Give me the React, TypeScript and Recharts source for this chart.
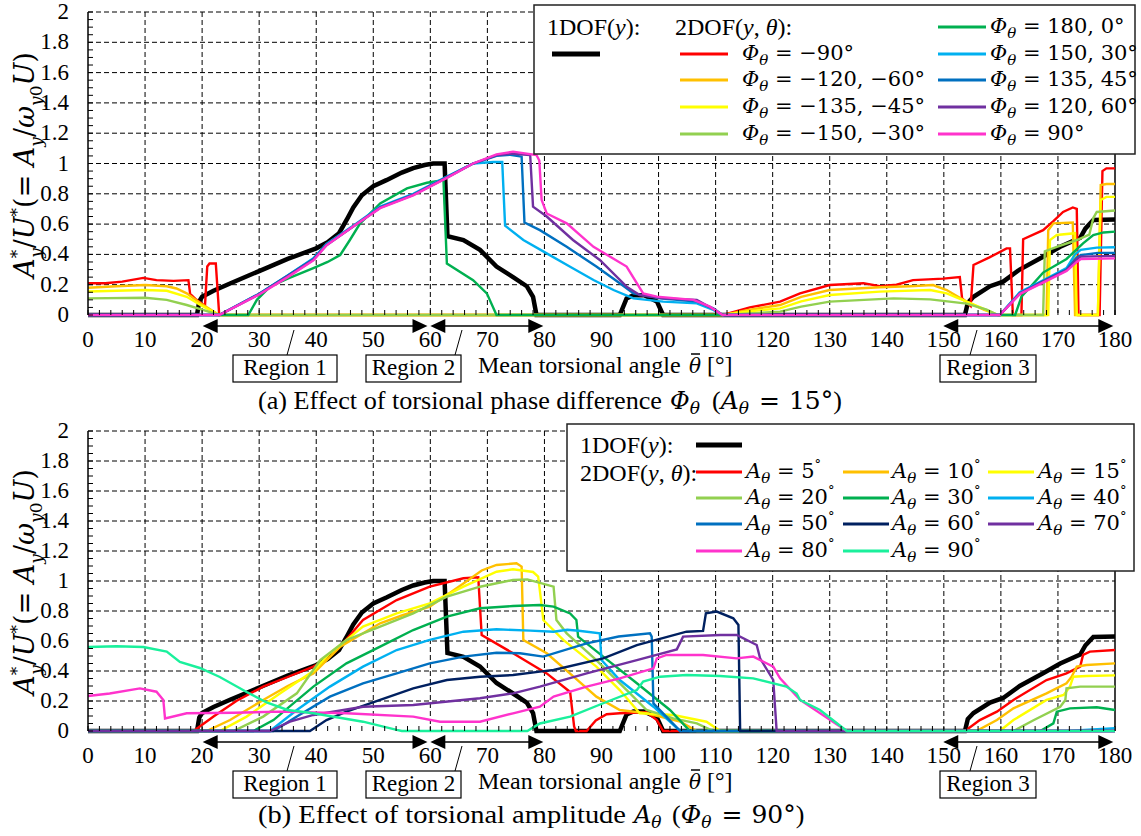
import React from "react";
import { LineChart, Line, XAxis, YAxis, CartesianGrid, ReferenceLine } from "recharts";

type Pt = [number, number];

// 1DOF(y) response, identical in both panels
const ONE_DOF: Pt[] = [
  [0, 0], [19.1, 0], [19.5, 0.09], [20, 0.12], [22, 0.16], [25, 0.21], [30, 0.29], [35, 0.37], [40, 0.44],
  [42, 0.48], [44, 0.54], [45.5, 0.64], [46.5, 0.71], [48, 0.79], [50, 0.85], [52.3, 0.89], [55, 0.94],
  [57, 0.97], [59, 0.99], [60.5, 1.0], [62.5, 1.0], [63.0, 0.52], [65.8, 0.495], [68.7, 0.43], [71.6, 0.32],
  [74.5, 0.25], [76.9, 0.19], [78, 0.12], [78.6, 0], [93.2, 0], [94.4, 0.11], [95.6, 0.13], [97.5, 0.13],
  [99.7, 0.09], [100.8, 0], [153.7, 0], [154.2, 0.08], [155.2, 0.12], [158.1, 0.19], [160.4, 0.22],
  [163.3, 0.3], [167.4, 0.385], [170.4, 0.45], [173.9, 0.51], [174.8, 0.57], [176.2, 0.627], [180, 0.63],
];

// (a) torsional phase difference, A_theta = 15 deg
const PH_M90: Pt[] = [
  [0, 0.21], [3, 0.21], [6, 0.22], [9.7, 0.245], [12, 0.23], [15, 0.225], [17.6, 0.23], [17.9, 0.14],
  [19, 0.1], [20.5, 0.06], [20.9, 0.32], [21.3, 0.34], [22.4, 0.34], [23, 0], [111.3, 0], [116, 0.05],
  [121.3, 0.088], [124.8, 0.143], [130, 0.198], [135.9, 0.21], [138.8, 0.19], [141.7, 0.2], [144.6, 0.23],
  [149.9, 0.24], [152.8, 0.25], [153.2, 0.11], [154.7, 0.06], [155.2, 0.33], [158, 0.38], [161, 0.44],
  [161.6, 0.44], [162.1, 0], [163.6, 0], [163.9, 0.5], [167.4, 0.56], [169.2, 0.62], [170.9, 0.68],
  [172.6, 0.71], [173.3, 0.7], [173.6, 0], [177.3, 0], [177.8, 0.95], [178.5, 0.968], [180, 0.968],
];
const PH_M120: Pt[] = [
  [0, 0.18], [5, 0.19], [10, 0.198], [13.8, 0.19], [15.5, 0.175], [17.3, 0.143], [20, 0.07], [23, 0],
  [111.3, 0], [116, 0.035], [121.3, 0.066], [125, 0.12], [130, 0.165], [138.8, 0.183], [144, 0.19],
  [148.1, 0.198], [150.5, 0.165], [154, 0.088], [157, 0.035], [159.5, 0], [168, 0], [168.3, 0.56],
  [169.2, 0.605], [172.6, 0.61], [173, 0], [177, 0], [177.5, 0.858], [178.5, 0.865], [180, 0.865],
];
const PH_M135: Pt[] = [
  [0, 0.155], [10, 0.165], [13.8, 0.16], [17.3, 0.12], [20, 0.06], [23, 0], [111.3, 0], [116, 0.025],
  [121.3, 0.044], [125, 0.09], [130, 0.132], [138.8, 0.154], [147.6, 0.165], [150.5, 0.143], [154, 0.088],
  [157, 0.04], [159.5, 0], [168.3, 0], [168.6, 0.495], [169.8, 0.528], [173, 0.54], [173.3, 0], [177, 0],
  [177.5, 0.76], [178.5, 0.78], [180, 0.78],
];
const PH_M150: Pt[] = [
  [0, 0.11], [10, 0.114], [13.8, 0.1], [17.3, 0.066], [20, 0.035], [23, 0], [111.3, 0], [116, 0.01],
  [121.3, 0.022], [125, 0.055], [130, 0.088], [141.2, 0.11], [147.6, 0.103], [154, 0.075], [157.5, 0.035],
  [159.5, 0], [167.4, 0], [167.7, 0.42], [169.8, 0.45], [173.3, 0.495], [175.5, 0.53], [176.2, 0.64],
  [176.8, 0.68], [180, 0.69],
];
const PH_180: Pt[] = [
  [0, 0], [28.1, 0], [29.6, 0.1], [31.9, 0.187], [35, 0.24], [39.5, 0.31], [42, 0.35], [44.2, 0.396],
  [45.9, 0.495], [47.7, 0.605], [51.2, 0.737], [55.9, 0.836], [59.4, 0.873], [62.3, 0.89], [62.9, 0.34],
  [67.5, 0.23], [69.9, 0.143], [71.6, 0], [162.5, 0], [163.6, 0.12], [167.4, 0.28], [171.5, 0.37],
  [174.4, 0.473], [176.2, 0.528], [178, 0.545], [180, 0.55],
];
const PH_150: Pt[] = [
  [0, 0], [23, 0], [30, 0.14], [35, 0.26], [39.5, 0.374], [41.8, 0.47], [47.1, 0.605], [51.2, 0.715],
  [57, 0.8], [62.9, 0.913], [67.5, 1.0], [71, 1.01], [72.6, 1.01], [73.1, 0.59], [76.3, 0.495], [80.4, 0.407],
  [84.5, 0.319], [88.6, 0.231], [92.1, 0.165], [95.6, 0.11], [100.8, 0.088], [106.7, 0.077], [109.6, 0.033],
  [111.2, 0], [159.8, 0], [163.3, 0.15], [168, 0.24], [171.5, 0.31], [173, 0.4], [174, 0.43], [176.8, 0.445],
  [180, 0.447],
];
const PH_135: Pt[] = [
  [0, 0], [23, 0], [30, 0.14], [35, 0.26], [39.5, 0.37], [41.8, 0.465], [47.1, 0.6], [51.2, 0.71],
  [57, 0.795], [62.9, 0.91], [67.5, 1.0], [71.6, 1.05], [74, 1.058], [76, 1.045], [76.5, 0.61], [79.2, 0.56],
  [83.9, 0.45], [89.1, 0.32], [93.2, 0.21], [95.6, 0.143], [100.3, 0.11], [106.7, 0.088], [109.6, 0.044],
  [111.2, 0], [159.8, 0], [163.3, 0.143], [168, 0.235], [171.5, 0.3], [173.3, 0.38], [174, 0.395],
  [177, 0.41], [180, 0.41],
];
const PH_120: Pt[] = [
  [0, 0], [23, 0], [30, 0.137], [35, 0.255], [39.5, 0.365], [41.8, 0.46], [47.1, 0.6], [51.2, 0.708],
  [57, 0.792], [62.9, 0.907], [67.5, 1.0], [71.6, 1.055], [74, 1.065], [77.5, 1.056], [78, 0.715],
  [80.4, 0.65], [85, 0.495], [89.7, 0.363], [94.4, 0.187], [96.7, 0.132], [100.8, 0.11], [106.7, 0.1],
  [109.6, 0.04], [111.2, 0], [159.8, 0], [163.3, 0.14], [168, 0.23], [171.5, 0.295], [173.3, 0.37],
  [174, 0.385], [180, 0.39],
];
const PH_90: Pt[] = [
  [0, 0], [23, 0], [30, 0.135], [35, 0.25], [39.5, 0.36], [41.8, 0.46], [47.1, 0.6], [51.2, 0.705],
  [57, 0.79], [62.9, 0.905], [67.5, 1.0], [71.6, 1.06], [74.5, 1.078], [78.6, 1.056], [79.1, 1.02],
  [79.5, 0.76], [80.4, 0.67], [83.9, 0.605], [88.6, 0.45], [94.4, 0.32], [97.3, 0.143], [99.7, 0.121],
  [106.1, 0.1], [109, 0.055], [111.2, 0], [159.8, 0], [163.3, 0.138], [168, 0.225], [171.5, 0.29],
  [173.3, 0.35], [174, 0.37], [180, 0.374],
];

// (b) torsional amplitude, Phi_theta = 90 deg
const AM_5: Pt[] = [
  [0, 0], [18.5, 0], [22, 0.096], [26, 0.2], [30.7, 0.296], [35, 0.36], [39.5, 0.429], [42, 0.48],
  [44.2, 0.562], [48.2, 0.74], [54.1, 0.873], [59.9, 0.962], [65.8, 1.018], [68.4, 1.025], [69, 0.64],
  [74.5, 0.518], [80.4, 0.384], [84.5, 0.26], [85.2, 0.03], [85.5, 0], [87.4, 0], [89, 0.07], [90.9, 0.112],
  [93.2, 0.118], [97.9, 0.125], [99.7, 0.073], [100.8, 0], [153.7, 0], [156.3, 0.073], [159.3, 0.129],
  [162.2, 0.207], [168, 0.34], [171.5, 0.384], [173.9, 0.429], [174.4, 0.507], [175.6, 0.529], [180, 0.54],
];
const AM_10: Pt[] = [
  [0, 0], [20.8, 0], [24.9, 0.073], [30.7, 0.207], [35, 0.3], [39.5, 0.384], [44.2, 0.562], [51.2, 0.718],
  [55, 0.77], [59.9, 0.829], [65.8, 0.984], [69, 1.07], [71.6, 1.107], [75.1, 1.118], [76, 1.096],
  [76.3, 0.607], [80.4, 0.518], [85.1, 0.362], [89.1, 0.229], [93.2, 0.14], [97.9, 0.118], [103.8, 0.062],
  [106.7, 0], [155.7, 0], [159.3, 0.073], [162.2, 0.151], [168, 0.251], [171.5, 0.318], [172.4, 0.362],
  [173.3, 0.429], [175, 0.44], [180, 0.451],
];
const AM_15: Pt[] = [
  [0, 0], [23.1, 0], [27.8, 0.096], [33.7, 0.251], [39.5, 0.4], [42.4, 0.518], [48.2, 0.696], [54.1, 0.784],
  [59.9, 0.851], [65.8, 0.962], [71.6, 1.062], [74.5, 1.078], [78, 1.06], [78.9, 1.029], [79.5, 0.84],
  [79.8, 0.74], [83.3, 0.607], [89.1, 0.429], [93.2, 0.273], [96.7, 0.118], [102.6, 0.107], [108.4, 0.062],
  [110.8, 0], [159.8, 0], [162.2, 0.073], [168, 0.207], [171, 0.24], [172.1, 0.296], [172.7, 0.362],
  [175, 0.367], [180, 0.371],
];
const AM_20: Pt[] = [
  [0, 0], [25.5, 0], [30.7, 0.096], [36.6, 0.251], [40.7, 0.473], [45.3, 0.607], [51.2, 0.696], [57, 0.784],
  [62.9, 0.896], [68.7, 0.962], [74.5, 1.007], [77, 1.011], [81.6, 0.962], [82.1, 0.74], [83.9, 0.651],
  [89.1, 0.473], [95, 0.251], [97.9, 0.14], [102.6, 0.084], [106.7, 0.051], [109.6, 0], [162.2, 0],
  [165.8, 0.073], [170.4, 0.162], [171.3, 0.207], [171.5, 0.284], [173.9, 0.296], [180, 0.296],
];
const AM_30: Pt[] = [
  [0, 0], [29, 0], [32.5, 0.073], [39.5, 0.296], [45.3, 0.451], [51.2, 0.562], [57, 0.673], [62.9, 0.762],
  [68.7, 0.818], [74.5, 0.833], [79.2, 0.84], [81.6, 0.829], [84.5, 0.784], [85.6, 0.74], [85.9, 0.629],
  [90.3, 0.496], [96.2, 0.318], [102, 0.14], [105.5, 0], [166.9, 0], [169.2, 0.051], [169.8, 0.129],
  [172.1, 0.151], [176.8, 0.158], [180, 0.14],
];
const AM_40: Pt[] = [
  [0, 0], [31.9, 0], [36.6, 0.14], [42.4, 0.296], [48.2, 0.429], [54.1, 0.54], [59.9, 0.607], [65.8, 0.662],
  [71.6, 0.678], [77.5, 0.669], [81.6, 0.662], [84, 0.675], [86, 0.668], [89.7, 0.651], [90, 0.473],
  [93.2, 0.34], [99.1, 0.162], [103.8, 0], [171.5, 0], [180, 0.018],
];
const AM_50: Pt[] = [
  [0, 0], [32.5, 0], [36.6, 0.096], [42.4, 0.229], [48.2, 0.318], [54.1, 0.384], [59.9, 0.451],
  [65.8, 0.496], [71.6, 0.522], [75.7, 0.518], [79.8, 0.496], [87.4, 0.584], [93, 0.63], [98.5, 0.651],
  [98.8, 0.629], [99.1, 0.184], [103.8, 0], [180, 0],
];
const AM_60: Pt[] = [
  [0, 0], [38.9, 0], [41.8, 0.073], [45.3, 0.129], [51.2, 0.207], [57, 0.284], [62.9, 0.34], [68.7, 0.362],
  [74.5, 0.373], [79.2, 0.396], [81.6, 0.407], [90.3, 0.484], [96.2, 0.573], [104.9, 0.662], [107.8, 0.667],
  [108.3, 0.784], [110.2, 0.796], [113.1, 0.751], [114, 0.707], [114.3, 0], [180, 0],
];
const AM_70: Pt[] = [
  [0, 0], [31.9, 0], [35.4, 0.062], [39.5, 0.107], [48.2, 0.162], [57, 0.173], [68.7, 0.218], [74.5, 0.251],
  [79.2, 0.296], [87.4, 0.384], [96.2, 0.473], [103.2, 0.544], [104.3, 0.629], [110.8, 0.64], [113.7, 0.64],
  [117.2, 0.573], [117.8, 0.484], [120.1, 0.34], [120.7, 0], [180, 0],
];
const AM_80: Pt[] = [
  [0, 0.233], [3.8, 0.25], [9.1, 0.284], [12, 0.262], [13.2, 0.207], [13.5, 0.084], [17.3, 0.118],
  [25.5, 0.122], [33.7, 0.129], [45.3, 0.118], [57, 0.096], [61.7, 0.062], [68.7, 0.062], [74.5, 0.118],
  [79.2, 0.162], [81.6, 0.229], [87.4, 0.296], [93.2, 0.351], [99.1, 0.418], [99.7, 0.484], [101.4, 0.507],
  [107.8, 0.507], [113.7, 0.484], [116.6, 0.496], [120.1, 0.429], [121.3, 0.351], [124.8, 0.207], [133, 0],
  [180, 0],
];
const AM_90: Pt[] = [
  [0, 0.56], [5, 0.565], [9.7, 0.56], [13.8, 0.53], [16.1, 0.46], [19.6, 0.42], [23.1, 0.36], [27.8, 0.26],
  [31.3, 0.19], [35, 0.14], [39.5, 0.118], [48.2, 0.062], [54.1, 0.007], [55, 0], [77, 0], [79.2, 0.05],
  [84.5, 0.096], [90.3, 0.185], [96.2, 0.273], [97.3, 0.33], [100.3, 0.362], [104.9, 0.373], [110.8, 0.367],
  [116.6, 0.351], [122.4, 0.296], [124.2, 0.25], [124.8, 0.207], [128.3, 0.14], [133, 0], [180, 0],
];

const PHASE_LABELS = ["\u221290", "\u2212120, \u221260", "\u2212135, \u221245", "\u2212150, \u221230", "180, 0", "150, 30", "135, 45", "120, 60", "90"];
const PHASE_COLORS = ["#ff0000", "#ffc000", "#ffff00", "#92d050", "#00b050", "#00b0f0", "#0070c0", "#7030a0", "#ff33cc"];
const PHASE_DATA = [PH_M90, PH_M120, PH_M135, PH_M150, PH_180, PH_150, PH_135, PH_120, PH_90];

const AMP_LABELS = ["5", "10", "15", "20", "30", "40", "50", "60", "70", "80", "90"];
const AMP_COLORS = ["#ff0000", "#ffc000", "#ffff00", "#92d050", "#00b050", "#00b0f0", "#0070c0", "#002060", "#7030a0", "#ff33cc", "#1af09c"];
const AMP_DATA = [AM_5, AM_10, AM_15, AM_20, AM_30, AM_40, AM_50, AM_60, AM_70, AM_80, AM_90];

const X_TICKS = Array.from({ length: 91 }, (_, i) => i * 2);
const Y_TICKS = Array.from({ length: 41 }, (_, i) => Math.round(i * 5) / 100);
const GRID_X = [10, 20, 30, 40, 50, 60, 70, 80, 90, 100, 110, 120, 130, 140, 150, 160, 170];
const GRID_Y = [0.2, 0.4, 0.6, 0.8, 1, 1.2, 1.4, 1.6, 1.8, 2];

const SERIF = "'Liberation Serif', 'Times New Roman', serif";
const MATH = "'DejaVu Serif', serif";
const serif = (size: number) => ({ fontFamily: SERIF, fontSize: size });
const math = (size: number, italic = false) => ({ fontFamily: MATH, fontSize: size, fontStyle: italic ? "italic" : "normal" });

const PL = 88;
const PR = 1115;
const AXIS_Y = 315; // plot bottom inside each chart
const px = (d: number) => PL + (d / 180) * (PR - PL);

const toXY = (a: Pt[]) => a.map(([x, y]) => ({ x, y }));

function XTick(props: any) {
  const { x, payload } = props;
  const v = payload.value as number;
  const major = v % 10 === 0;
  return (
    <g>
      <line x1={x} x2={x} y1={AXIS_Y} y2={AXIS_Y - 5} stroke="#000" strokeWidth={1} />
      {major && (
        <text x={x} y={AXIS_Y + 32} textAnchor="middle" style={serif(23)} fill="#000">
          {v}
        </text>
      )}
    </g>
  );
}

function YTick(props: any) {
  const { y, payload } = props;
  const v = payload.value as number;
  const major = Math.abs(v * 5 - Math.round(v * 5)) < 1e-6;
  const label = Math.abs(v - Math.round(v)) < 1e-6 ? String(Math.round(v)) : v.toFixed(1);
  return (
    <g>
      <line x1={PL} x2={PL + 5} y1={y} y2={y} stroke="#000" strokeWidth={1} />
      {major && (
        <text x={69} y={y + 7} textAnchor="end" style={serif(23)} fill="#000">
          {label}
        </text>
      )}
    </g>
  );
}

function Panel({ top, marginTop, data, colors }: { top: number; marginTop: number; data: Pt[][]; colors: string[] }) {
  return (
    <div style={{ position: "absolute", left: 0, top }}>
      <LineChart width={1141} height={420} margin={{ top: marginTop, right: 1141 - PR, bottom: 0, left: 0 }}>
        <CartesianGrid stroke="#000" strokeWidth={1} strokeDasharray="5 3" horizontalValues={GRID_Y} verticalValues={GRID_X} />
        <XAxis
          type="number"
          dataKey="x"
          domain={[0, 180]}
          ticks={X_TICKS}
          interval={0}
          tickLine={false}
          axisLine={false}
          tick={XTick}
          height={105}
        />
        <YAxis
          type="number"
          domain={[0, 2]}
          ticks={Y_TICKS}
          interval={0}
          tickLine={false}
          axisLine={{ stroke: "#000", strokeWidth: 1.5 }}
          tick={YTick}
          width={PL}
        />
        <ReferenceLine x={180} stroke="#000" strokeWidth={1.5} />
        <Line data={toXY(ONE_DOF)} dataKey="y" type="linear" stroke="#000" strokeWidth={4.5} dot={false} activeDot={false} isAnimationActive={false} />
        {data.map((d, i) => (
          <Line
            key={i}
            data={toXY(d)}
            dataKey="y"
            type="linear"
            stroke={colors[i]}
            strokeWidth={2.4}
            dot={false}
            activeDot={false}
            isAnimationActive={false}
          />
        ))}
      </LineChart>
    </div>
  );
}

function Arrow({ d1, d2, y }: { d1: number; d2: number; y: number }) {
  const x1 = px(d1);
  const x2 = px(d2);
  return (
    <g>
      <line x1={x1 + 10} x2={x2 - 10} y1={y} y2={y} stroke="#000" strokeWidth={1.6} />
      <polygon points={`${x1},${y} ${x1 + 15},${y - 7} ${x1 + 15},${y + 7}`} fill="#000" />
      <polygon points={`${x2},${y} ${x2 - 15},${y - 7} ${x2 - 15},${y + 7}`} fill="#000" />
    </g>
  );
}

function RegionBox({ x, y, w, label }: { x: number; y: number; w: number; label: string }) {
  return (
    <g>
      <rect x={x} y={y} width={w} height={27} fill="#fff" stroke="#000" strokeWidth={1.2} />
      <text x={x + w / 2} y={y + 20} textAnchor="middle" style={serif(23)} fill="#000">
        {label}
      </text>
    </g>
  );
}

function Annotations({ dy }: { dy: number }) {
  const ay = 326 + dy;
  const by = 355 + dy;
  return (
    <g>
      <Arrow d1={20.1} d2={59.5} y={ay} />
      <Arrow d1={60} d2={79.8} y={ay} />
      <Arrow d1={149.9} d2={179.7} y={ay} />
      <line x1={294} y1={ay + 4} x2={287} y2={by} stroke="#000" strokeWidth={1} />
      <line x1={462} y1={ay + 4} x2={455} y2={by} stroke="#000" strokeWidth={1} />
      <line x1={977} y1={ay + 4} x2={970} y2={by} stroke="#000" strokeWidth={1} />
      <RegionBox x={233} y={by} w={104} label="Region 1" />
      <RegionBox x={366} y={by} w={95} label="Region 2" />
      <RegionBox x={940} y={by} w={96} label="Region 3" />
      <text x={478} y={by + 18} style={serif(24)} fill="#000">
        Mean torsional angle
      </text>
      <text x={689} y={by + 18} style={math(20, true)} fill="#000">
        θ
      </text>
      <line x1={691} x2={700} y1={by - 1} y2={by - 1} stroke="#000" strokeWidth={1.5} />
      <text x={707} y={by + 18} style={serif(24)} fill="#000">
        [°]
      </text>
    </g>
  );
}

function YTitle({ cx, cy }: { cx: number; cy: number }) {
  return (
    <text transform={`translate(${cx},${cy}) rotate(-90)`} textAnchor="middle" style={math(27)} fill="#000">
      <tspan fontStyle="italic">A</tspan>
      <tspan fontSize={17} dy={-11}>*</tspan>
      <tspan fontSize={17} fontStyle="italic" dy={19} dx={-8}>y</tspan>
      <tspan dy={-8}>/</tspan>
      <tspan fontStyle="italic">U</tspan>
      <tspan fontSize={17} dy={-11}>*</tspan>
      <tspan dy={11}>(= </tspan>
      <tspan fontStyle="italic">A</tspan>
      <tspan fontSize={17} fontStyle="italic" dy={8}>y</tspan>
      <tspan dy={-8}>/</tspan>
      <tspan fontStyle="italic">ω</tspan>
      <tspan fontSize={17} fontStyle="italic" dy={8}>y</tspan>
      <tspan fontSize={17}>0</tspan>
      <tspan fontStyle="italic" dy={-8}>U</tspan>
      <tspan>)</tspan>
    </text>
  );
}

function PhiLabel({ x, y, val }: { x: number; y: number; val: string }) {
  return (
    <text x={x} y={y} style={math(21)} fill="#000">
      <tspan fontStyle="italic">Φ</tspan>
      <tspan fontStyle="italic" fontSize={15} dy={5}>θ</tspan>
      <tspan dy={-5}>{` = ${val}°`}</tspan>
    </text>
  );
}

function AmpLabel({ x, y, val }: { x: number; y: number; val: string }) {
  return (
    <text x={x} y={y} style={math(21)} fill="#000">
      <tspan fontStyle="italic">A</tspan>
      <tspan fontStyle="italic" fontSize={15} dy={5}>θ</tspan>
      <tspan dy={-5}>{` = ${val}`}</tspan>
      <tspan fontSize={13} dy={-9}>°</tspan>
    </text>
  );
}

function DofText({ x, y, two }: { x: number; y: number; two?: boolean }) {
  return (
    <text x={x} y={y} style={serif(24)} fill="#000">
      {two ? "2DOF(" : "1DOF("}
      <tspan fontStyle="italic">y</tspan>
      {two && <tspan>, </tspan>}
      {two && <tspan fontStyle="italic">θ</tspan>}
      <tspan>):</tspan>
    </text>
  );
}

function LegendA() {
  const rows1 = [54, 80, 107, 134];
  const rows2 = [27, 54, 80, 107, 134];
  return (
    <g>
      <rect x={534} y={5} width={601} height={149} fill="#fff" stroke="#222" strokeWidth={1.5} />
      <DofText x={547} y={35} />
      <DofText x={675} y={35} two />
      <line x1={552} x2={600} y1={54} y2={54} stroke="#000" strokeWidth={5} />
      {PHASE_LABELS.map((lab, i) => {
        const col = i < 4 ? 0 : 1;
        const ry = col === 0 ? rows1[i] : rows2[i - 4];
        const lx = col === 0 ? 680 : 938;
        const tx = col === 0 ? 742 : 990;
        return (
          <g key={i}>
            <line x1={lx} x2={lx + 48} y1={ry} y2={ry} stroke={PHASE_COLORS[i]} strokeWidth={2.8} />
            <PhiLabel x={tx} y={ry + 6} val={lab} />
          </g>
        );
      })}
    </g>
  );
}

function LegendB() {
  const rows = [472, 498, 524, 551];
  const lineX = [696, 843, 988];
  const textX = [746, 892, 1038];
  return (
    <g>
      <rect x={567} y={424} width={567} height={147} fill="#fff" stroke="#222" strokeWidth={1.5} />
      <DofText x={580} y={453} />
      <DofText x={580} y={481} two />
      <line x1={696} x2={742} y1={445} y2={445} stroke="#000" strokeWidth={5} />
      {AMP_LABELS.map((lab, i) => {
        const r = Math.floor(i / 3);
        const c = i % 3;
        return (
          <g key={i}>
            <line x1={lineX[c]} x2={lineX[c] + 46} y1={rows[r]} y2={rows[r]} stroke={AMP_COLORS[i]} strokeWidth={2.8} />
            <AmpLabel x={textX[c]} y={rows[r] + 6} val={lab} />
          </g>
        );
      })}
    </g>
  );
}

function Caption(props: { y: number; lead: string; leadEnd: number; symX: number; sym: string; parX: number; inner: string; val: string }) {
  const { y, lead, leadEnd, symX, sym, parX, inner, val } = props;
  return (
    <g fill="#000">
      <text x={258} y={y} style={serif(25)} textLength={leadEnd - 258} lengthAdjust="spacingAndGlyphs">
        {lead}
      </text>
      <text x={symX} y={y} style={math(24, true)}>
        {sym}
        <tspan fontSize={17} dy={5}>θ</tspan>
      </text>
      <text x={parX} y={y} style={serif(26)}>
        (
        <tspan fontFamily={MATH} fontStyle="italic" fontSize={25}>{inner}</tspan>
        <tspan fontFamily={MATH} fontStyle="italic" fontSize={17} dy={5}>θ</tspan>
        <tspan fontFamily={MATH} fontSize={25} dy={-5} dx={10}>=</tspan>
        <tspan fontFamily={MATH} fontSize={25} dx={9}>{`${val}°`}</tspan>
        <tspan>)</tspan>
      </text>
    </g>
  );
}

export default function App() {
  return (
    <div style={{ position: "absolute", left: 0, top: 0, width: 1141, height: 836, background: "#fff", overflow: "hidden" }}>
      <Panel top={0} marginTop={12} data={PHASE_DATA} colors={PHASE_COLORS} />
      <Panel top={416} marginTop={15} data={AMP_DATA} colors={AMP_COLORS} />
      <svg width={1141} height={836} style={{ position: "absolute", left: 0, top: 0, pointerEvents: "none" }}>
        <YTitle cx={34} cy={165} />
        <YTitle cx={34} cy={582} />
        <LegendA />
        <LegendB />
        <Annotations dy={0} />
        <Annotations dy={416} />
        <Caption y={409} lead="(a) Effect of torsional phase difference" leadEnd={662} symX={670} sym="Φ" parX={712} inner="A" val="15" />
        <Caption y={823} lead="(b) Effect of torsional amplitude" leadEnd={626} symX={634} sym="A" parX={672} inner="Φ" val="90" />
      </svg>
    </div>
  );
}
